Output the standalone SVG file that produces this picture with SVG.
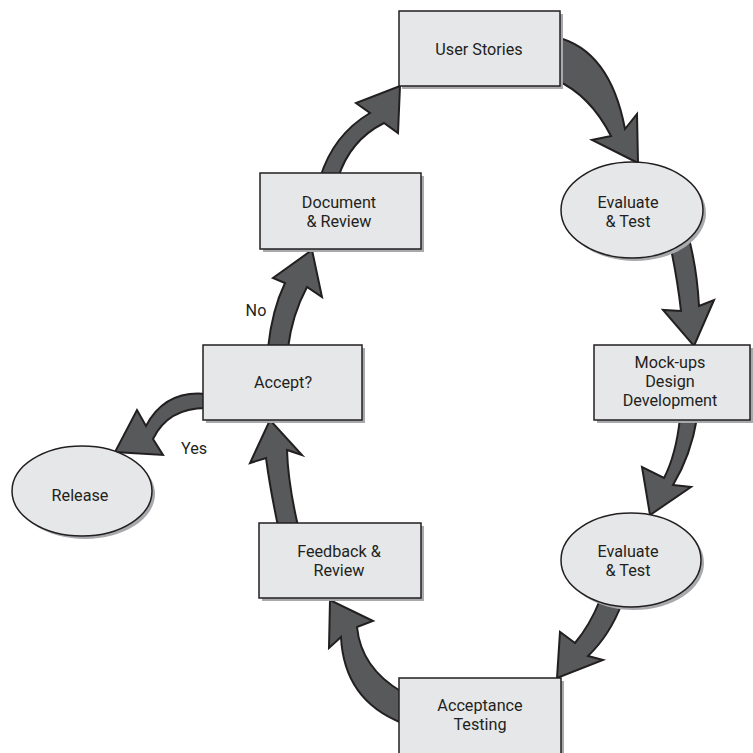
<svg xmlns="http://www.w3.org/2000/svg" width="753" height="753" viewBox="0 0 753 753">
<style>
.arrow{fill:#58595b;stroke:#231f20;stroke-width:2;stroke-linejoin:miter}
.box{fill:#e6e7e8;stroke:#231f20;stroke-width:1.5}
.shadow{fill:#a7a9ac}
.t{font-family:Roboto,"Open Sans","Liberation Sans",sans-serif;font-size:16.2px;fill:#231f20;text-anchor:middle}
</style>
<rect width="753" height="753" fill="#ffffff"/>
<g id="connectors">
<path class="arrow" d="M556,37 Q610,50 625,129 L637,114 L638,163 L592,140 L611,136 Q590,95 556,80 Z"/>
<path class="arrow" d="M668,235 Q677,275 681,311 L663,310 L694,346 L714,300 L699,306 Q697,268 688,235 Z"/>
<path class="arrow" d="M680,418 Q676,455 664,478 L642,467 L650,515 L691,487 L673,485 Q691,455 697,418 Z"/>
<path class="arrow" d="M600,600 Q590,625 575,643 L560,632 L557,678 L603,660 L588,656 Q610,635 622,603 Z"/>
<path class="arrow" d="M402,692 Q361,668 357,627 L373,621 L330,600 L329,648 L341,637 Q344,700 402,723 Z"/>
<path class="arrow" d="M278,526 Q270,488 266,458 L250,463 L270,420 L302,455 L287,450 Q288,483 298,526 Z"/>
<path class="arrow" d="M268,348 Q272,310 285,283 L273,278 L312,250 L322,297 L307,287 Q292,315 288,348 Z"/>
<path class="arrow" d="M320,178 Q333,135 370,113 L356,103 L400,86 L398,133 L384,123 Q350,140 338,178 Z"/>
<path class="arrow" d="M206,394 Q165,390 146,426 L137,410 L115,452 L163,455 L153,439 Q168,408 206,408 Z"/>
<text class="t" x="256" y="316">No</text>
<text class="t" x="194" y="454">Yes</text>
</g>
<g id="user-stories">
<rect class="shadow" x="402" y="14" width="161" height="75"/>
<rect class="box" x="399" y="11" width="161" height="75"/>
<text class="t" x="479" y="55">User Stories</text>
</g>
<g id="evaluate-1">
<ellipse class="shadow" cx="635" cy="213" rx="71" ry="48"/>
<ellipse class="box" cx="632" cy="210" rx="71" ry="48"/>
<text class="t" x="628" y="208">Evaluate</text>
<text class="t" x="628" y="227">&amp; Test</text>
</g>
<g id="mockups">
<rect class="shadow" x="597" y="348" width="156" height="75"/>
<rect class="box" x="594" y="345" width="156" height="75"/>
<text class="t" x="670" y="368">Mock-ups</text>
<text class="t" x="670" y="387">Design</text>
<text class="t" x="670" y="406">Development</text>
</g>
<g id="evaluate-2">
<ellipse class="shadow" cx="634" cy="563" rx="70" ry="47"/>
<ellipse class="box" cx="631" cy="560" rx="70" ry="47"/>
<text class="t" x="628" y="557">Evaluate</text>
<text class="t" x="628" y="576">&amp; Test</text>
</g>
<g id="acceptance-testing">
<rect class="shadow" x="402" y="681" width="162" height="80"/>
<rect class="box" x="399" y="678" width="162" height="80"/>
<text class="t" x="480" y="711">Acceptance</text>
<text class="t" x="480" y="730">Testing</text>
</g>
<g id="feedback-review">
<rect class="shadow" x="262" y="526" width="162" height="75"/>
<rect class="box" x="259" y="523" width="162" height="75"/>
<text class="t" x="339" y="557">Feedback &amp;</text>
<text class="t" x="339" y="576">Review</text>
</g>
<g id="accept">
<rect class="shadow" x="206" y="348" width="159" height="75"/>
<rect class="box" x="203" y="345" width="159" height="75"/>
<text class="t" x="283" y="388">Accept?</text>
</g>
<g id="document-review">
<rect class="shadow" x="263" y="176" width="161" height="76"/>
<rect class="box" x="260" y="173" width="161" height="76"/>
<text class="t" x="339" y="208">Document</text>
<text class="t" x="339" y="227">&amp; Review</text>
</g>
<g id="release">
<ellipse class="shadow" cx="85" cy="494" rx="70" ry="45"/>
<ellipse class="box" cx="82" cy="491" rx="70" ry="45"/>
<text class="t" x="80" y="501">Release</text>
</g>
</svg>
